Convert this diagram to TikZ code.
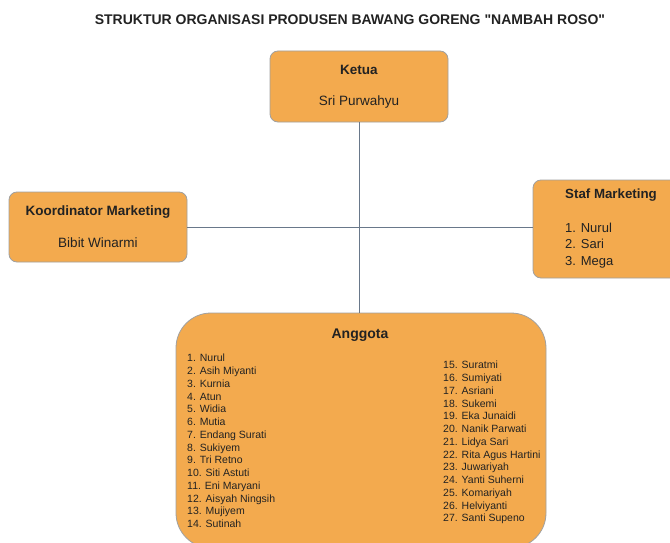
\documentclass[tikz,border=0pt]{standalone}
\usepackage{fontspec}
\setmainfont{Liberation Sans}
\definecolor{isikotak}{RGB}{243,170,78}
\definecolor{tepikotak}{RGB}{160,160,160}
\definecolor{warnagaris}{RGB}{105,120,138}
\definecolor{warnateks}{RGB}{34,34,34}

\begin{document}
\begin{tikzpicture}[x=1pt,y=-1pt,
	kotak/.style={draw=tepikotak, fill=isikotak, rounded corners=8pt, line width=0.8pt, text=warnateks},
	garis/.style={draw=warnagaris, line width=0.9pt},
	judul/.style={font=\bfseries\fontsize{14}{16}\selectfont, text=warnateks},
	isi/.style={font=\fontsize{13.5}{15}\selectfont},
	daftar/.style={font=\fontsize{10.5}{12.75}\selectfont, align=left, text=warnateks, anchor=north west, inner sep=0pt}]
	\clip (0,0) rectangle (670,543);
	\fill[white] (0,0) rectangle (670,543);

	% judul
	\node[judul] (judul) at (350,20) {STRUKTUR ORGANISASI PRODUSEN BAWANG GORENG \textquotedbl NAMBAH ROSO\textquotedbl};

	% kotak
	\node[kotak, minimum width=178pt, minimum height=71pt, align=center, isi] (ketua) at (359,86.5)
		{\textbf{Ketua}\\[16pt]Sri Purwahyu};
	\node[kotak, minimum width=178pt, minimum height=70pt, align=center, isi] (koord) at (98,227)
		{\textbf{Koordinator Marketing}\\[17pt]Bibit Winarmi};
	\node[kotak, minimum width=157pt, minimum height=98pt] (staf) at (611.5,229) {};
	\node[kotak, rounded corners=35pt, minimum width=370pt, minimum height=235pt] (anggota) at (361,430.5) {};

	% garis penghubung
	\draw[garis] (ketua.south) -- (ketua.south |- anggota.north);
	\draw[garis] (koord.east) -- (koord.east -| staf.west);

	% isi staf
	\node[judul, font=\bfseries\fontsize{13.3}{16}\selectfont, anchor=west, inner sep=0pt] (stafjudul) at (565,195) {Staf Marketing};
	\node[daftar, font=\fontsize{13}{16.5}\selectfont] (stafisi) at (565,222.5)
		{1. Nurul\\2. Sari\\3. Mega};

	% isi anggota
	\node[judul] (anggotajudul) at (360,335) {Anggota};
	\node[daftar] (kiri) at (187,354) {1. Nurul\\2. Asih Miyanti\\3. Kurnia\\4. Atun\\5. Widia\\6. Mutia\\
		7. Endang Surati\\8. Sukiyem\\9. Tri Retno\\10. Siti Astuti\\11. Eni Maryani\\12. Aisyah Ningsih\\
		13. Mujiyem\\14. Sutinah};
	\node[daftar] (kanan) at (443,361) {15. Suratmi\\16. Sumiyati\\17. Asriani\\18. Sukemi\\19. Eka Junaidi\\
		20. Nanik Parwati\\21. Lidya Sari\\22. Rita Agus Hartini\\23. Juwariyah\\24. Yanti Suherni\\
		25. Komariyah\\26. Helviyanti\\27. Santi Supeno};
\end{tikzpicture}
\end{document}
